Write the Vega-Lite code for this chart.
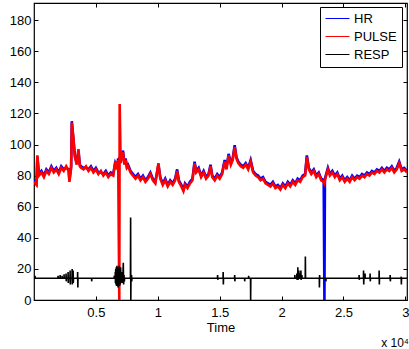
{
  "$schema": "https://vega.github.io/schema/vega-lite/v6.json",
  "width": 373,
  "height": 297,
  "autosize": {"type": "none"},
  "padding": {"left": 34, "top": 3, "right": 2, "bottom": 49},
  "background": "white",
  "config": {
    "view": {"stroke": "black", "strokeWidth": 1.2},
    "font": "Liberation Sans",
    "axis": {"grid": false, "domain": false, "tickColor": "black", "tickSize": -4, "labelColor": "black", "labelFont": "Liberation Sans", "labelFontSize": 13, "titleFont": "Liberation Sans", "titleFontSize": 13, "titleFontWeight": "normal", "titleColor": "black"}
  },
  "title": {"text": "x 10⁴", "orient": "bottom", "anchor": "end", "fontSize": 12, "fontWeight": "normal", "font": "Liberation Sans", "color": "black", "offset": 4},
  "datasets": {
    "hp": [
      {"t":0,"HR":77,"PULSE":76},{"t":200,"HR":75,"PULSE":74},{"t":270,"HR":92,"PULSE":93},{"t":400,"HR":81,"PULSE":80},
      {"t":600,"HR":83,"PULSE":82},{"t":800,"HR":80,"PULSE":79},{"t":1000,"HR":84,"PULSE":83},{"t":1200,"HR":82,"PULSE":81},
      {"t":1400,"HR":86,"PULSE":85},{"t":1600,"HR":83,"PULSE":82},{"t":1800,"HR":85,"PULSE":84},{"t":2000,"HR":82,"PULSE":81},
      {"t":2200,"HR":86,"PULSE":85},{"t":2400,"HR":84,"PULSE":83},{"t":2600,"HR":85,"PULSE":86},{"t":2800,"HR":84,"PULSE":83},
      {"t":2860,"HR":77,"PULSE":76},{"t":3000,"HR":86,"PULSE":85},{"t":3055,"HR":115,"PULSE":114},{"t":3185,"HR":103,"PULSE":104},
      {"t":3300,"HR":93,"PULSE":92},{"t":3450,"HR":88,"PULSE":87},{"t":3590,"HR":96,"PULSE":97},{"t":3700,"HR":87,"PULSE":86},
      {"t":3800,"HR":86,"PULSE":85},{"t":4000,"HR":85,"PULSE":84},{"t":4200,"HR":85,"PULSE":86},{"t":4400,"HR":84,"PULSE":83},
      {"t":4600,"HR":86,"PULSE":85},{"t":4800,"HR":83,"PULSE":82},{"t":5000,"HR":85,"PULSE":84},{"t":5200,"HR":82,"PULSE":81},
      {"t":5400,"HR":82,"PULSE":83},{"t":5600,"HR":81,"PULSE":80},{"t":5800,"HR":83,"PULSE":82},{"t":6000,"HR":80,"PULSE":79},
      {"t":6200,"HR":82,"PULSE":81},{"t":6400,"HR":81,"PULSE":80},{"t":6560,"HR":88,"PULSE":89},{"t":6700,"HR":85,"PULSE":84},
      {"t":6800,"HR":91,"PULSE":90},{"t":6890,"HR":89,"PULSE":0},{"t":6920,"HR":92,"PULSE":126},{"t":7000,"HR":89,"PULSE":88},
      {"t":7100,"HR":94,"PULSE":93},{"t":7190,"HR":96,"PULSE":95},{"t":7300,"HR":88,"PULSE":87},{"t":7400,"HR":91,"PULSE":90},
      {"t":7500,"HR":86,"PULSE":85},{"t":7600,"HR":87,"PULSE":86},{"t":7800,"HR":83,"PULSE":82},{"t":8000,"HR":81,"PULSE":80},
      {"t":8200,"HR":79,"PULSE":78},{"t":8400,"HR":81,"PULSE":80},{"t":8600,"HR":78,"PULSE":77},{"t":8800,"HR":80,"PULSE":79},
      {"t":9000,"HR":77,"PULSE":76},{"t":9200,"HR":79,"PULSE":78},{"t":9400,"HR":82,"PULSE":81},{"t":9600,"HR":78,"PULSE":77},
      {"t":9800,"HR":76,"PULSE":75},{"t":10050,"HR":87,"PULSE":88},{"t":10200,"HR":79,"PULSE":78},{"t":10400,"HR":75,"PULSE":74},
      {"t":10600,"HR":78,"PULSE":77},{"t":10800,"HR":74,"PULSE":73},{"t":11000,"HR":77,"PULSE":76},{"t":11200,"HR":75,"PULSE":74},
      {"t":11400,"HR":78,"PULSE":77},{"t":11560,"HR":84,"PULSE":83},{"t":11700,"HR":77,"PULSE":76},{"t":11900,"HR":74,"PULSE":73},
      {"t":12070,"HR":71,"PULSE":70},{"t":12200,"HR":75,"PULSE":74},{"t":12400,"HR":73,"PULSE":72},{"t":12600,"HR":76,"PULSE":75},
      {"t":12800,"HR":78,"PULSE":77},{"t":12970,"HR":89,"PULSE":88},{"t":13100,"HR":83,"PULSE":82},{"t":13300,"HR":85,"PULSE":84},
      {"t":13500,"HR":80,"PULSE":79},{"t":13700,"HR":83,"PULSE":82},{"t":13900,"HR":79,"PULSE":78},{"t":14100,"HR":81,"PULSE":80},
      {"t":14260,"HR":87,"PULSE":86},{"t":14400,"HR":80,"PULSE":79},{"t":14600,"HR":78,"PULSE":77},{"t":14800,"HR":81,"PULSE":80},
      {"t":15000,"HR":79,"PULSE":78},{"t":15200,"HR":82,"PULSE":81},{"t":15400,"HR":90,"PULSE":89},{"t":15550,"HR":85,"PULSE":84},
      {"t":15720,"HR":94,"PULSE":93},{"t":15900,"HR":88,"PULSE":87},{"t":16050,"HR":91,"PULSE":90},{"t":16210,"HR":99.5,"PULSE":98.5},
      {"t":16350,"HR":92,"PULSE":91},{"t":16500,"HR":89,"PULSE":88},{"t":16700,"HR":87,"PULSE":86},{"t":16900,"HR":86,"PULSE":85},
      {"t":17100,"HR":88,"PULSE":87},{"t":17300,"HR":85,"PULSE":84},{"t":17500,"HR":90,"PULSE":89},{"t":17700,"HR":83,"PULSE":82},
      {"t":17900,"HR":81,"PULSE":80},{"t":18100,"HR":80,"PULSE":79},{"t":18300,"HR":78,"PULSE":77},{"t":18500,"HR":79,"PULSE":78},
      {"t":18700,"HR":76,"PULSE":75},{"t":18900,"HR":75,"PULSE":74},{"t":19100,"HR":74,"PULSE":73},{"t":19300,"HR":76,"PULSE":75},
      {"t":19500,"HR":73,"PULSE":72},{"t":19700,"HR":74,"PULSE":73},{"t":19900,"HR":72,"PULSE":71},{"t":20100,"HR":75,"PULSE":74},
      {"t":20300,"HR":73,"PULSE":72},{"t":20500,"HR":76,"PULSE":75},{"t":20700,"HR":74,"PULSE":73},{"t":20900,"HR":77,"PULSE":76},
      {"t":21100,"HR":75,"PULSE":74},{"t":21300,"HR":78,"PULSE":77},{"t":21500,"HR":77,"PULSE":76},{"t":21700,"HR":80,"PULSE":79},
      {"t":21900,"HR":81,"PULSE":80},{"t":22040,"HR":93,"PULSE":92},{"t":22200,"HR":85,"PULSE":84},{"t":22400,"HR":82,"PULSE":81},
      {"t":22600,"HR":84,"PULSE":83},{"t":22800,"HR":80,"PULSE":79},{"t":23000,"HR":82,"PULSE":81},{"t":23200,"HR":78,"PULSE":77},
      {"t":23400,"HR":77,"PULSE":76},{"t":23460,"HR":0,"PULSE":75},{"t":23500,"HR":78,"PULSE":77},{"t":23740,"HR":85,"PULSE":84},
      {"t":23900,"HR":81,"PULSE":80},{"t":24100,"HR":83,"PULSE":82},{"t":24300,"HR":80,"PULSE":79},{"t":24500,"HR":82,"PULSE":81},
      {"t":24700,"HR":78,"PULSE":77},{"t":24900,"HR":80,"PULSE":79},{"t":25100,"HR":77,"PULSE":76},{"t":25300,"HR":79,"PULSE":78},
      {"t":25500,"HR":77,"PULSE":76},{"t":25700,"HR":80,"PULSE":79},{"t":25900,"HR":78,"PULSE":77},{"t":26100,"HR":80,"PULSE":79},
      {"t":26300,"HR":79,"PULSE":78},{"t":26500,"HR":81,"PULSE":80},{"t":26700,"HR":80,"PULSE":79},{"t":26900,"HR":82,"PULSE":81},
      {"t":27100,"HR":81,"PULSE":80},{"t":27300,"HR":83,"PULSE":82},{"t":27500,"HR":82,"PULSE":81},{"t":27700,"HR":84,"PULSE":83},
      {"t":27900,"HR":83,"PULSE":82},{"t":28100,"HR":85,"PULSE":84},{"t":28300,"HR":83,"PULSE":82},{"t":28500,"HR":85,"PULSE":84},
      {"t":28700,"HR":84,"PULSE":83},{"t":28900,"HR":86,"PULSE":85},{"t":29100,"HR":83,"PULSE":82},{"t":29300,"HR":85,"PULSE":84},
      {"t":29500,"HR":89,"PULSE":88},{"t":29700,"HR":84,"PULSE":83},{"t":29900,"HR":85,"PULSE":84},{"t":30130,"HR":83,"PULSE":82}
    ],
    "resp": [
      {"t":0,"RESP":14},{"t":60,"RESP":14},{"t":80,"RESP":15.5},{"t":100,"RESP":14},
      {"t":1930,"RESP":14},{"t":1945,"RESP":15.5},{"t":1960,"RESP":14},
      {"t":2100,"RESP":14},{"t":2110,"RESP":16},{"t":2120,"RESP":14},
      {"t":2260,"RESP":14},{"t":2270,"RESP":15.5},{"t":2280,"RESP":14},
      {"t":2420,"RESP":14},{"t":2430,"RESP":16.5},{"t":2440,"RESP":14},
      {"t":2580,"RESP":14},{"t":2590,"RESP":17},{"t":2605,"RESP":12},{"t":2620,"RESP":14},
      {"t":2745,"RESP":14},{"t":2755,"RESP":18},{"t":2770,"RESP":11},{"t":2785,"RESP":14},
      {"t":2905,"RESP":14},{"t":2917,"RESP":19},{"t":2930,"RESP":10},{"t":2945,"RESP":14},
      {"t":3070,"RESP":14},{"t":3080,"RESP":20},{"t":3095,"RESP":10},{"t":3110,"RESP":14},
      {"t":3150,"RESP":14},{"t":3160,"RESP":19},{"t":3175,"RESP":11},{"t":3190,"RESP":14},
      {"t":3515,"RESP":14},{"t":3525,"RESP":18},{"t":3540,"RESP":8},{"t":3555,"RESP":14},
      {"t":4650,"RESP":14},{"t":4660,"RESP":12},{"t":4675,"RESP":14},
      {"t":6470,"RESP":14},{"t":6483,"RESP":15.5},{"t":6500,"RESP":14},
      {"t":6555,"RESP":14},{"t":6564,"RESP":18},{"t":6580,"RESP":11},{"t":6600,"RESP":20},{"t":6620,"RESP":10},{"t":6645,"RESP":21},
      {"t":6670,"RESP":9},{"t":6700,"RESP":22},{"t":6726,"RESP":9},{"t":6760,"RESP":21},{"t":6790,"RESP":8},{"t":6820,"RESP":20},
      {"t":6850,"RESP":10},{"t":6888,"RESP":22},{"t":6910,"RESP":9},{"t":6940,"RESP":19},{"t":6970,"RESP":10},{"t":7000,"RESP":21},
      {"t":7030,"RESP":11},{"t":7060,"RESP":18},{"t":7100,"RESP":12},{"t":7131,"RESP":17},{"t":7170,"RESP":11},{"t":7212,"RESP":24},
      {"t":7240,"RESP":10},{"t":7270,"RESP":16},{"t":7300,"RESP":12},{"t":7320,"RESP":14},
      {"t":7790,"RESP":14},{"t":7805,"RESP":53},{"t":7820,"RESP":0},{"t":7835,"RESP":14},
      {"t":7870,"RESP":14},{"t":7880,"RESP":16},{"t":7895,"RESP":12},{"t":7910,"RESP":14},
      {"t":14820,"RESP":14},{"t":14830,"RESP":16},{"t":14845,"RESP":13},{"t":14860,"RESP":14},
      {"t":15270,"RESP":14},{"t":15280,"RESP":18},{"t":15295,"RESP":10},{"t":15310,"RESP":14},
      {"t":16200,"RESP":14},{"t":16210,"RESP":16},{"t":16225,"RESP":12},{"t":16240,"RESP":14},
      {"t":17010,"RESP":14},{"t":17020,"RESP":12},{"t":17035,"RESP":14},
      {"t":17330,"RESP":14},{"t":17340,"RESP":15.5},{"t":17355,"RESP":14},
      {"t":17490,"RESP":14},{"t":17500,"RESP":0},{"t":17515,"RESP":14},
      {"t":21060,"RESP":14},{"t":21070,"RESP":16},{"t":21085,"RESP":14},
      {"t":21220,"RESP":14},{"t":21230,"RESP":17},{"t":21245,"RESP":13},{"t":21260,"RESP":14},
      {"t":21300,"RESP":14},{"t":21310,"RESP":21},{"t":21325,"RESP":13},{"t":21340,"RESP":14},
      {"t":21385,"RESP":14},{"t":21395,"RESP":19},{"t":21410,"RESP":14},
      {"t":21465,"RESP":14},{"t":21475,"RESP":17},{"t":21490,"RESP":14},
      {"t":21550,"RESP":14},{"t":21560,"RESP":19},{"t":21575,"RESP":13},{"t":21590,"RESP":14},
      {"t":21630,"RESP":14},{"t":21640,"RESP":16},{"t":21655,"RESP":14},
      {"t":21910,"RESP":14},{"t":21920,"RESP":28},{"t":21935,"RESP":14},
      {"t":23045,"RESP":14},{"t":23055,"RESP":8},{"t":23070,"RESP":16},{"t":23085,"RESP":14},
      {"t":23570,"RESP":14},{"t":23580,"RESP":12},{"t":23595,"RESP":14},
      {"t":26250,"RESP":14},{"t":26260,"RESP":16},{"t":26275,"RESP":13},{"t":26290,"RESP":14},
      {"t":26610,"RESP":14},{"t":26620,"RESP":19},{"t":26635,"RESP":10},{"t":26650,"RESP":14},
      {"t":26730,"RESP":14},{"t":26740,"RESP":17},{"t":26755,"RESP":14},
      {"t":27140,"RESP":14},{"t":27150,"RESP":17},{"t":27165,"RESP":12},{"t":27180,"RESP":14},
      {"t":27870,"RESP":14},{"t":27880,"RESP":19},{"t":27895,"RESP":10},{"t":27910,"RESP":14},
      {"t":28760,"RESP":14},{"t":28770,"RESP":16},{"t":28785,"RESP":12},{"t":28800,"RESP":14},
      {"t":29650,"RESP":14},{"t":29660,"RESP":15},{"t":29675,"RESP":10},{"t":29690,"RESP":14},
      {"t":30130,"RESP":14}
    ]
  },
  "layer": [
    {
      "data": {"name": "hp"},
      "mark": {"type": "line", "strokeWidth": 2.6, "strokeJoin": "miter", "clip": true},
      "encoding": {
        "x": {"field": "t", "type": "quantitative", "scale": {"domain": [0, 30130], "nice": false, "zero": false},
              "axis": {"orient": "bottom", "title": "Time", "values": [5000, 10000, 15000, 20000, 25000, 30000], "labelExpr": "datum.value / 10000", "labelPadding": 10, "titlePadding": 2}},
        "y": {"field": "HR", "type": "quantitative", "scale": {"domain": [0, 191], "nice": false},
              "axis": {"orient": "left", "title": null, "values": [0, 20, 40, 60, 80, 100, 120, 140, 160, 180], "labelPadding": 7}},
        "color": {"datum": "HR", "type": "nominal",
                  "scale": {"domain": ["HR", "PULSE", "RESP"], "range": ["#0000ff", "#ff0000", "#000000"]},
                  "legend": {"title": null, "orient": "none", "legendX": 286, "legendY": 4, "strokeColor": "black", "fillColor": "white", "padding": 5, "symbolType": "M-1,0H3", "symbolSize": 144, "symbolStrokeWidth": 1, "symbolFillColor": "transparent", "labelFontSize": 13, "labelFont": "Liberation Sans", "labelColor": "black", "labelOffset": 16, "rowPadding": 4}}
      }
    },
    {
      "data": {"name": "hp"},
      "mark": {"type": "line", "strokeWidth": 2.6, "strokeJoin": "miter", "clip": true},
      "encoding": {
        "x": {"field": "t", "type": "quantitative", "axis": null},
        "y": {"field": "PULSE", "type": "quantitative", "axis": null},
        "color": {"datum": "PULSE", "type": "nominal"}
      }
    },
    {
      "data": {"name": "resp"},
      "mark": {"type": "line", "strokeWidth": 1.6, "clip": true},
      "encoding": {
        "x": {"field": "t", "type": "quantitative",
              "axis": {"orient": "top", "title": null, "labels": false, "values": [5000, 10000, 15000, 20000, 25000, 30000]}},
        "y": {"field": "RESP", "type": "quantitative",
              "axis": {"orient": "right", "title": null, "labels": false, "values": [0, 20, 40, 60, 80, 100, 120, 140, 160, 180]}},
        "color": {"datum": "RESP", "type": "nominal"}
      }
    }
  ],
  "resolve": {"axis": {"x": "independent", "y": "independent"}}
}
